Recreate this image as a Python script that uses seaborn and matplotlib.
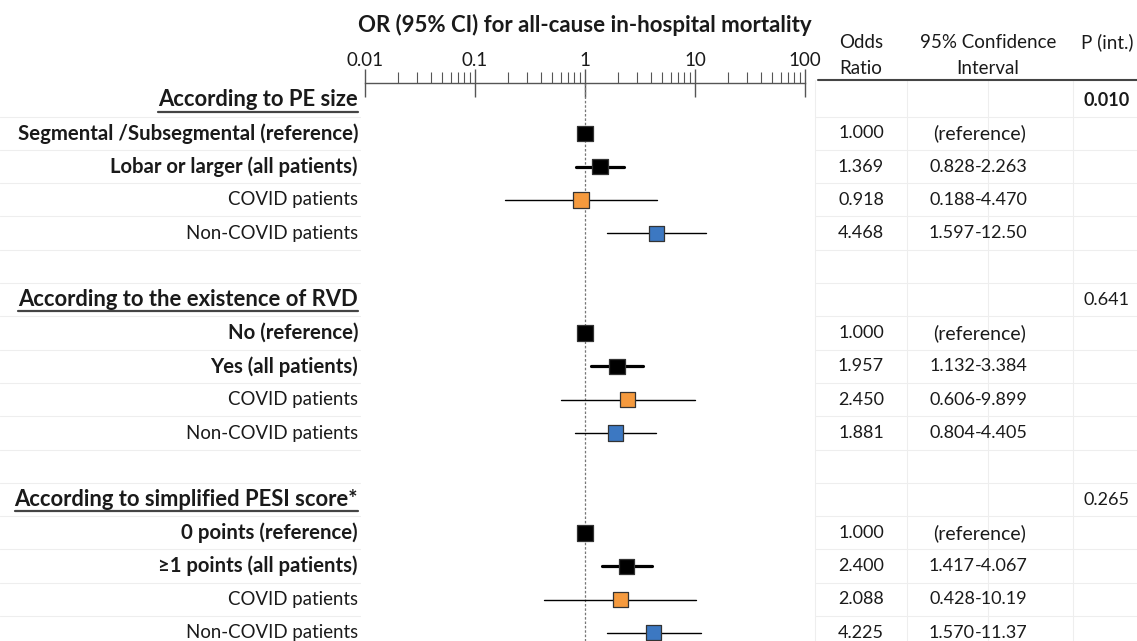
import numpy as np
import pandas as pd
import matplotlib
matplotlib.use("Agg")
import matplotlib.pyplot as plt
import matplotlib.ticker as mticker
import seaborn as sns

# ── data ──────────────────────────────────────────────────────────────────────
labels = [
    "According to PE size",
    "Segmental /Subsegmental (reference)",
    "Lobar or larger (all patients)",
    "COVID patients",
    "Non-COVID patients",
    "",
    "According to the existence of RVD",
    "No (reference)",
    "Yes (all patients)",
    "COVID patients",
    "Non-COVID patients",
    "",
    "According to simplified PESI score*",
    "0 points (reference)",
    "\u22651 points (all patients)",
    "COVID patients",
    "Non-COVID patients",
]
row_kind = ["header", "ref", "all", "covid", "noncovid", "blank",
            "header", "ref", "all", "covid", "noncovid", "blank",
            "header", "ref", "all", "covid", "noncovid"]
odds = [np.nan, 1.000, 1.369, 0.918, 4.468, np.nan,
        np.nan, 1.000, 1.957, 2.450, 1.881, np.nan,
        np.nan, 1.000, 2.400, 2.088, 4.225]
ci_low = [np.nan, np.nan, 0.828, 0.188, 1.597, np.nan,
          np.nan, np.nan, 1.132, 0.606, 0.804, np.nan,
          np.nan, np.nan, 1.417, 0.428, 1.570]
ci_high = [np.nan, np.nan, 2.263, 4.470, 12.50, np.nan,
           np.nan, np.nan, 3.384, 9.899, 4.405, np.nan,
           np.nan, np.nan, 4.067, 10.19, 11.37]
or_text = ["", "1.000", "1.369", "0.918", "4.468", "",
           "", "1.000", "1.957", "2.450", "1.881", "",
           "", "1.000", "2.400", "2.088", "4.225"]
ci_text = ["", "(reference)", "0.828-2.263", "0.188-4.470", "1.597-12.50", "",
           "", "(reference)", "1.132-3.384", "0.606-9.899", "0.804-4.405", "",
           "", "(reference)", "1.417-4.067", "0.428-10.19", "1.570-11.37"]
p_text = ["0.010", "", "", "", "", "",
          "0.641", "", "", "", "", "",
          "0.265", "", "", "", ""]
p_bold = [True] + [False] * 16

# ── layout (pixel units) ──────────────────────────────────────────────────────
W, H = 1137, 641
Y0, DY = 100, 33.3
AX_TOP = 83
FONT = ["Lato", "DejaVu Sans"]
TXT = "#1a1a1a"
GRID = "#eeeeee"
LABEL_SIZE = {"header": 15.8, "ref": 14.7, "all": 14.6, "covid": 13.4, "noncovid": 13.4}

sns.set_theme(style="white")
plt.rcParams["font.family"] = FONT

df = pd.DataFrame({"label": labels, "kind": row_kind, "odds": odds,
                   "lo": ci_low, "hi": ci_high})
df["y"] = Y0 + DY * np.arange(len(df))

fig = plt.figure(figsize=(W / 100, H / 100), dpi=100)
bg = fig.add_axes([0, 0, 1, 1])
bg.set_xlim(0, W)
bg.set_ylim(H, 0)
bg.axis("off")

ax = fig.add_axes([365 / W, 0, 440 / W, (H - AX_TOP) / H])
ax.set_facecolor("none")
ax.set_xscale("log")
ax.set_xlim(0.01, 100)
ax.set_ylim(H, AX_TOP)

# ── forest axis styling ───────────────────────────────────────────────────────
for side in ["bottom", "left", "right"]:
    ax.spines[side].set_visible(False)
ax.spines["top"].set_color("#555555")
ax.spines["top"].set_linewidth(1.0)
ax.xaxis.tick_top()
ax.xaxis.set_major_locator(mticker.LogLocator(base=10, numticks=10))
ax.xaxis.set_major_formatter(mticker.FuncFormatter(lambda v, _: f"{v:g}"))
ax.xaxis.set_minor_locator(mticker.LogLocator(base=10, subs=np.arange(2, 10), numticks=20))
ax.xaxis.set_minor_formatter(mticker.NullFormatter())
ax.tick_params(axis="x", which="major", direction="inout", length=20, width=1,
               color="#555555", labelsize=13.5, labelcolor=TXT, pad=0)
ax.tick_params(axis="x", which="minor", direction="out", length=8, width=0.8,
               color="#555555")
ax.set_yticks([])
ax.axvline(1, color="#777777", ls=(0, (2, 1.5)), lw=0.9, zorder=1)

# confidence-interval lines
for _, r in df.dropna(subset=["lo"]).iterrows():
    lw = 2.3 if r["kind"] == "all" else 1.0
    ax.plot([r["lo"], r["hi"]], [r["y"], r["y"]], color="black", lw=lw, zorder=2)

# square markers
pts = df.dropna(subset=["odds"])
palette = {"ref": "black", "all": "black", "covid": "#F59A3E", "noncovid": "#3C78C2"}
sns.scatterplot(data=pts, x="odds", y="y", hue="kind", palette=palette,
                s=120, marker="s", edgecolor="#333333",
                linewidth=0.9, legend=False, ax=ax, zorder=3)
ax.set_xlabel("")
ax.set_ylabel("")
ax.set_ylim(H, AX_TOP)

# ── title ─────────────────────────────────────────────────────────────────────
bg.text(585, 25, "OR (95% CI) for all-cause in-hospital mortality", ha="center",
        va="center", fontsize=16, fontweight="bold", color=TXT)

# ── left labels ───────────────────────────────────────────────────────────────
renderer = fig.canvas.get_renderer()
for _, r in df.iterrows():
    if not r["label"]:
        continue
    bold = r["kind"] in ("header", "ref", "all")
    t = bg.text(358, r["y"], r["label"], ha="right", va="center",
                fontsize=LABEL_SIZE[r["kind"]],
                fontweight="bold" if bold else "normal", color=TXT)
    if r["kind"] == "header":
        bb = t.get_window_extent(renderer)
        yl = H - bb.y0 + 1
        bg.plot([bb.x0, bb.x1], [yl, yl], color="#444444", lw=1.6)

# faint cell borders
for y in df["y"]:
    bg.plot([0, 360], [y + 16.5, y + 16.5], color=GRID, lw=0.8, zorder=0)
    bg.plot([815, W], [y + 16.5, y + 16.5], color=GRID, lw=0.8, zorder=0)
for x in [815, 907, 988, 1073]:
    bg.plot([x, x], [80, H], color=GRID, lw=0.8, zorder=0)

# ── table ─────────────────────────────────────────────────────────────────────
bg.plot([818, W], [80, 80], color="#444444", lw=1.5)
for x, y, s in [(861, 42, "Odds"), (861, 68, "Ratio"),
                (988, 42, "95% Confidence"), (988, 68, "Interval"),
                (1107, 42, "P (int.)")]:
    bg.text(x, y, s, ha="center", va="center", fontsize=13.5, color=TXT)

for i, y in enumerate(df["y"]):
    if or_text[i]:
        bg.text(861, y, or_text[i], ha="center", va="center", fontsize=13, color=TXT)
    if ci_text[i].startswith("("):
        bg.text(980, y, ci_text[i], ha="center", va="center", fontsize=14, color=TXT)
    elif ci_text[i]:
        lo, hi = ci_text[i].split("-")
        bg.text(975, y, lo, ha="right", va="center", fontsize=13, color=TXT)
        bg.text(975, y, "-" + hi, ha="left", va="center", fontsize=13, color=TXT)
    if p_text[i]:
        bg.text(1107, y, p_text[i], ha="center", va="center", fontsize=13,
                color=TXT, fontweight="bold" if p_bold[i] else "normal")

fig.savefig("out.png", dpi=100, facecolor="white")
